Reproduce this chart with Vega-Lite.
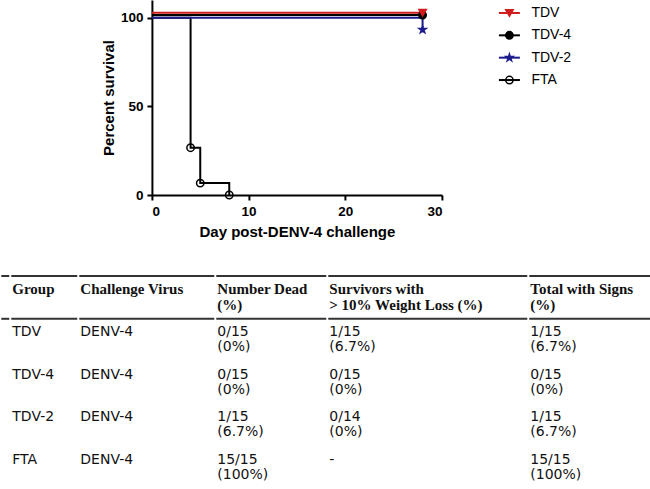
{
  "$schema": "https://vega.github.io/schema/vega-lite/v6.json",
  "padding": 0,
  "background": "white",
  "config": {
    "view": {"stroke": null},
    "axis": {
      "domainColor": "black", "domainWidth": 2, "tickColor": "black", "tickWidth": 2, "tickSize": 5,
      "labelFont": "Liberation Sans", "labelFontWeight": "bold", "labelFontSize": 13.5, "labelColor": "black",
      "titleFont": "Liberation Sans", "titleFontWeight": "bold", "titleFontSize": 15, "titleColor": "black",
      "grid": false
    }
  },
  "datasets": {
    "surv": [
      {"group": "FTA", "day": 0, "pct": 100},
      {"group": "FTA", "day": 4, "pct": 26.7},
      {"group": "FTA", "day": 5, "pct": 6.7},
      {"group": "FTA", "day": 8, "pct": 0},
      {"group": "TDV-2", "day": 0, "pct": 100},
      {"group": "TDV-2", "day": 28, "pct": 93.3},
      {"group": "TDV-4", "day": 0, "pct": 101.5},
      {"group": "TDV-4", "day": 28, "pct": 101.5},
      {"group": "TDV", "day": 0, "pct": 102.8},
      {"group": "TDV", "day": 28, "pct": 102.8}
    ],
    "markers": [
      {"group": "FTA", "day": 4, "pct": 26.7},
      {"group": "FTA", "day": 5, "pct": 6.7},
      {"group": "FTA", "day": 8, "pct": 0},
      {"group": "TDV-2", "day": 28, "pct": 93.3},
      {"group": "TDV-4", "day": 28, "pct": 101.5},
      {"group": "TDV", "day": 28, "pct": 102.8}
    ],
    "legend": [
      {"group": "TDV"}, {"group": "TDV-4"}, {"group": "TDV-2"}, {"group": "FTA"}
    ],
    "cells": [
      {"row": "header", "col": "Group", "t": "Group"},
      {"row": "header", "col": "Virus", "t": "Challenge Virus"},
      {"row": "header", "col": "Dead", "t": "Number Dead\n(%)"},
      {"row": "header", "col": "Loss", "t": "Survivors with\n> 10% Weight Loss (%)"},
      {"row": "header", "col": "Signs", "t": "Total with Signs\n(%)"},
      {"row": "TDV", "col": "Group", "t": "TDV"},
      {"row": "TDV", "col": "Virus", "t": "DENV-4"},
      {"row": "TDV", "col": "Dead", "t": "0/15\n(0%)"},
      {"row": "TDV", "col": "Loss", "t": "1/15\n(6.7%)"},
      {"row": "TDV", "col": "Signs", "t": "1/15\n(6.7%)"},
      {"row": "TDV-4", "col": "Group", "t": "TDV-4"},
      {"row": "TDV-4", "col": "Virus", "t": "DENV-4"},
      {"row": "TDV-4", "col": "Dead", "t": "0/15\n(0%)"},
      {"row": "TDV-4", "col": "Loss", "t": "0/15\n(0%)"},
      {"row": "TDV-4", "col": "Signs", "t": "0/15\n(0%)"},
      {"row": "TDV-2", "col": "Group", "t": "TDV-2"},
      {"row": "TDV-2", "col": "Virus", "t": "DENV-4"},
      {"row": "TDV-2", "col": "Dead", "t": "1/15\n(6.7%)"},
      {"row": "TDV-2", "col": "Loss", "t": "0/14\n(0%)"},
      {"row": "TDV-2", "col": "Signs", "t": "1/15\n(6.7%)"},
      {"row": "FTA", "col": "Group", "t": "FTA"},
      {"row": "FTA", "col": "Virus", "t": "DENV-4"},
      {"row": "FTA", "col": "Dead", "t": "15/15\n(100%)"},
      {"row": "FTA", "col": "Loss", "t": "-"},
      {"row": "FTA", "col": "Signs", "t": "15/15\n(100%)"}
    ],
    "rules": [
      {"row": "header", "kind": "top"},
      {"row": "TDV", "kind": "mid"},
      {"row": "FTA", "kind": "bottom"}
    ]
  },
  "center": true,
  "spacing": 34,
  "vconcat": [
    {
      "spacing": 52,
      "hconcat": [
        {
          "width": 290,
          "height": 195,
          "layer": [
            {
              "data": {"name": "surv"},
              "mark": {"type": "line", "interpolate": "step-after", "strokeWidth": 2},
              "encoding": {
                "x": {"field": "day", "type": "quantitative", "scale": {"domain": [0, 30], "nice": false},
                      "axis": {"values": [0, 10, 20, 30], "title": "Day post-DENV-4 challenge", "labelPadding": 4, "titlePadding": 7}},
                "y": {"field": "pct", "type": "quantitative", "scale": {"domain": [0, 110], "nice": false},
                      "axis": {"values": [0, 50, 100], "title": "Percent survival", "labelPadding": 4, "titlePadding": 4}},
                "color": {"field": "group", "type": "nominal", "legend": null,
                          "scale": {"domain": ["TDV", "TDV-4", "TDV-2", "FTA"], "range": ["#d01c1c", "#000000", "#1c1c8c", "#000000"]}}
              }
            },
            {
              "data": {"name": "markers"},
              "mark": {"type": "point", "filled": false, "size": 55, "strokeWidth": 1.5, "opacity": 1},
              "encoding": {
                "x": {"field": "day", "type": "quantitative"},
                "y": {"field": "pct", "type": "quantitative"},
                "color": {"field": "group", "type": "nominal", "legend": null},
                "shape": {"field": "group", "type": "nominal", "legend": null,
                          "scale": {"domain": ["TDV", "TDV-4", "TDV-2", "FTA"],
                                    "range": ["triangle-down", "circle", "M0,-1L0.224,-0.309L0.951,-0.309L0.363,0.118L0.588,0.809L0,0.382L-0.588,0.809L-0.363,0.118L-0.951,-0.309L-0.224,-0.309Z", "circle"]}},
                "fill": {"field": "group", "type": "nominal", "legend": null,
                         "scale": {"domain": ["TDV", "TDV-4", "TDV-2", "FTA"], "range": ["#d01c1c", "#000000", "#1c1c8c", "transparent"]}}
              }
            }
          ]
        },
        {
          "width": 21,
          "height": 93,
          "data": {"name": "legend"},
          "encoding": {
            "y": {"field": "group", "type": "nominal", "axis": null,
                  "scale": {"type": "point", "domain": ["TDV", "TDV-4", "TDV-2", "FTA"], "padding": 0.58}}
          },
          "layer": [
            {
              "mark": {"type": "point", "shape": "stroke", "size": 441, "strokeWidth": 2, "filled": false, "opacity": 1},
              "encoding": {"color": {"field": "group", "type": "nominal", "legend": null}}
            },
            {
              "mark": {"type": "point", "filled": false, "size": 55, "strokeWidth": 1.5, "opacity": 1},
              "encoding": {
                "color": {"field": "group", "type": "nominal", "legend": null},
                "shape": {"field": "group", "type": "nominal", "legend": null},
                "fill": {"field": "group", "type": "nominal", "legend": null}
              }
            },
            {
              "mark": {"type": "text", "align": "left", "baseline": "middle", "dx": 22, "font": "Liberation Sans", "fontSize": 14, "color": "black"},
              "encoding": {"text": {"field": "group"}}
            }
          ]
        }
      ]
    },
    {
      "spacing": 0,
      "hconcat": [
        {
          "width": 6, "height": 214,
          "layer": [
            {"data": {"name": "rules"}, "transform": [{"filter": "datum.kind !== 'bottom'"}],
             "mark": {"type": "rule", "strokeWidth": 2, "strokeCap": "square", "color": "#333333"},
             "encoding": {"y": {"field": "row", "type": "nominal", "bandPosition": 0, "axis": null,
                                "scale": {"type": "band", "domain": ["header", "TDV", "TDV-4", "TDV-2", "FTA"], "paddingInner": 0, "paddingOuter": 0}}}},
            {"data": {"name": "rules"}, "transform": [{"filter": "datum.kind === 'bottom'"}],
             "mark": {"type": "rule", "strokeWidth": 2, "strokeCap": "square", "color": "#999999"},
             "encoding": {"y": {"field": "row", "type": "nominal", "bandPosition": 1, "axis": null}}}
          ]
        },
        {
          "width": 64, "height": 214,
          "layer": [
            {"data": {"name": "rules"}, "transform": [{"filter": "datum.kind !== 'bottom'"}],
             "mark": {"type": "rule", "strokeWidth": 2, "strokeCap": "square", "color": "#333333"},
             "encoding": {"y": {"field": "row", "type": "nominal", "bandPosition": 0, "axis": null,
                                "scale": {"type": "band", "domain": ["header", "TDV", "TDV-4", "TDV-2", "FTA"], "paddingInner": 0, "paddingOuter": 0}}}},
            {"data": {"name": "rules"}, "transform": [{"filter": "datum.kind === 'bottom'"}],
             "mark": {"type": "rule", "strokeWidth": 2, "strokeCap": "square", "color": "#999999"},
             "encoding": {"y": {"field": "row", "type": "nominal", "bandPosition": 1, "axis": null}}},
            {"data": {"name": "cells"}, "transform": [{"filter": "datum.col === 'Group' && datum.row !== 'header'"}],
             "mark": {"type": "text", "align": "left", "baseline": "top", "dy": 6, "font": "DejaVu Sans", "fontSize": 14, "lineBreak": "\n", "lineHeight": 15, "color": "#111111"},
             "encoding": {"x": {"field": "col", "type": "nominal", "bandPosition": 0, "axis": null, "scale": {"type": "band", "paddingInner": 0, "paddingOuter": 0}},
                          "y": {"field": "row", "type": "nominal", "bandPosition": 0, "axis": null},
                          "text": {"field": "t"}}},
            {"data": {"name": "cells"}, "transform": [{"filter": "datum.col === 'Group' && datum.row === 'header'"}],
             "mark": {"type": "text", "align": "left", "baseline": "top", "dy": 5.5, "font": "Liberation Serif", "fontWeight": "bold", "fontSize": 15, "lineBreak": "\n", "lineHeight": 16, "color": "#111111"},
             "encoding": {"x": {"field": "col", "type": "nominal", "bandPosition": 0, "axis": null},
                          "y": {"field": "row", "type": "nominal", "bandPosition": 0, "axis": null},
                          "text": {"field": "t"}}}
          ]
        },
        {
          "width": 133, "height": 214,
          "layer": [
            {"data": {"name": "rules"}, "transform": [{"filter": "datum.kind !== 'bottom'"}],
             "mark": {"type": "rule", "strokeWidth": 2, "strokeCap": "square", "color": "#333333"},
             "encoding": {"y": {"field": "row", "type": "nominal", "bandPosition": 0, "axis": null,
                                "scale": {"type": "band", "domain": ["header", "TDV", "TDV-4", "TDV-2", "FTA"], "paddingInner": 0, "paddingOuter": 0}}}},
            {"data": {"name": "rules"}, "transform": [{"filter": "datum.kind === 'bottom'"}],
             "mark": {"type": "rule", "strokeWidth": 2, "strokeCap": "square", "color": "#999999"},
             "encoding": {"y": {"field": "row", "type": "nominal", "bandPosition": 1, "axis": null}}},
            {"data": {"name": "cells"}, "transform": [{"filter": "datum.col === 'Virus' && datum.row !== 'header'"}],
             "mark": {"type": "text", "align": "left", "baseline": "top", "dy": 6, "font": "DejaVu Sans", "fontSize": 14, "lineBreak": "\n", "lineHeight": 15, "color": "#111111"},
             "encoding": {"x": {"field": "col", "type": "nominal", "bandPosition": 0, "axis": null, "scale": {"type": "band", "paddingInner": 0, "paddingOuter": 0}},
                          "y": {"field": "row", "type": "nominal", "bandPosition": 0, "axis": null},
                          "text": {"field": "t"}}},
            {"data": {"name": "cells"}, "transform": [{"filter": "datum.col === 'Virus' && datum.row === 'header'"}],
             "mark": {"type": "text", "align": "left", "baseline": "top", "dy": 5.5, "font": "Liberation Serif", "fontWeight": "bold", "fontSize": 15, "lineBreak": "\n", "lineHeight": 16, "color": "#111111"},
             "encoding": {"x": {"field": "col", "type": "nominal", "bandPosition": 0, "axis": null},
                          "y": {"field": "row", "type": "nominal", "bandPosition": 0, "axis": null},
                          "text": {"field": "t"}}}
          ]
        },
        {
          "width": 108, "height": 214,
          "layer": [
            {"data": {"name": "rules"}, "transform": [{"filter": "datum.kind !== 'bottom'"}],
             "mark": {"type": "rule", "strokeWidth": 2, "strokeCap": "square", "color": "#333333"},
             "encoding": {"y": {"field": "row", "type": "nominal", "bandPosition": 0, "axis": null,
                                "scale": {"type": "band", "domain": ["header", "TDV", "TDV-4", "TDV-2", "FTA"], "paddingInner": 0, "paddingOuter": 0}}}},
            {"data": {"name": "rules"}, "transform": [{"filter": "datum.kind === 'bottom'"}],
             "mark": {"type": "rule", "strokeWidth": 2, "strokeCap": "square", "color": "#999999"},
             "encoding": {"y": {"field": "row", "type": "nominal", "bandPosition": 1, "axis": null}}},
            {"data": {"name": "cells"}, "transform": [{"filter": "datum.col === 'Dead' && datum.row !== 'header'"}],
             "mark": {"type": "text", "align": "left", "baseline": "top", "dy": 6, "font": "DejaVu Sans", "fontSize": 14, "lineBreak": "\n", "lineHeight": 15, "color": "#111111"},
             "encoding": {"x": {"field": "col", "type": "nominal", "bandPosition": 0, "axis": null, "scale": {"type": "band", "paddingInner": 0, "paddingOuter": 0}},
                          "y": {"field": "row", "type": "nominal", "bandPosition": 0, "axis": null},
                          "text": {"field": "t"}}},
            {"data": {"name": "cells"}, "transform": [{"filter": "datum.col === 'Dead' && datum.row === 'header'"}],
             "mark": {"type": "text", "align": "left", "baseline": "top", "dy": 5.5, "font": "Liberation Serif", "fontWeight": "bold", "fontSize": 15, "lineBreak": "\n", "lineHeight": 16, "color": "#111111"},
             "encoding": {"x": {"field": "col", "type": "nominal", "bandPosition": 0, "axis": null},
                          "y": {"field": "row", "type": "nominal", "bandPosition": 0, "axis": null},
                          "text": {"field": "t"}}}
          ]
        },
        {
          "width": 197, "height": 214,
          "layer": [
            {"data": {"name": "rules"}, "transform": [{"filter": "datum.kind !== 'bottom'"}],
             "mark": {"type": "rule", "strokeWidth": 2, "strokeCap": "square", "color": "#333333"},
             "encoding": {"y": {"field": "row", "type": "nominal", "bandPosition": 0, "axis": null,
                                "scale": {"type": "band", "domain": ["header", "TDV", "TDV-4", "TDV-2", "FTA"], "paddingInner": 0, "paddingOuter": 0}}}},
            {"data": {"name": "rules"}, "transform": [{"filter": "datum.kind === 'bottom'"}],
             "mark": {"type": "rule", "strokeWidth": 2, "strokeCap": "square", "color": "#999999"},
             "encoding": {"y": {"field": "row", "type": "nominal", "bandPosition": 1, "axis": null}}},
            {"data": {"name": "cells"}, "transform": [{"filter": "datum.col === 'Loss' && datum.row !== 'header'"}],
             "mark": {"type": "text", "align": "left", "baseline": "top", "dy": 6, "font": "DejaVu Sans", "fontSize": 14, "lineBreak": "\n", "lineHeight": 15, "color": "#111111"},
             "encoding": {"x": {"field": "col", "type": "nominal", "bandPosition": 0, "axis": null, "scale": {"type": "band", "paddingInner": 0, "paddingOuter": 0}},
                          "y": {"field": "row", "type": "nominal", "bandPosition": 0, "axis": null},
                          "text": {"field": "t"}}},
            {"data": {"name": "cells"}, "transform": [{"filter": "datum.col === 'Loss' && datum.row === 'header'"}],
             "mark": {"type": "text", "align": "left", "baseline": "top", "dy": 5.5, "font": "Liberation Serif", "fontWeight": "bold", "fontSize": 15, "lineBreak": "\n", "lineHeight": 16, "color": "#111111"},
             "encoding": {"x": {"field": "col", "type": "nominal", "bandPosition": 0, "axis": null},
                          "y": {"field": "row", "type": "nominal", "bandPosition": 0, "axis": null},
                          "text": {"field": "t"}}}
          ]
        },
        {
          "width": 189, "height": 214,
          "layer": [
            {"data": {"name": "rules"}, "transform": [{"filter": "datum.kind !== 'bottom'"}],
             "mark": {"type": "rule", "strokeWidth": 2, "strokeCap": "square", "color": "#333333"},
             "encoding": {"y": {"field": "row", "type": "nominal", "bandPosition": 0, "axis": null,
                                "scale": {"type": "band", "domain": ["header", "TDV", "TDV-4", "TDV-2", "FTA"], "paddingInner": 0, "paddingOuter": 0}}}},
            {"data": {"name": "rules"}, "transform": [{"filter": "datum.kind === 'bottom'"}],
             "mark": {"type": "rule", "strokeWidth": 2, "strokeCap": "square", "color": "#999999"},
             "encoding": {"y": {"field": "row", "type": "nominal", "bandPosition": 1, "axis": null}}},
            {"data": {"name": "cells"}, "transform": [{"filter": "datum.col === 'Signs' && datum.row !== 'header'"}],
             "mark": {"type": "text", "align": "left", "baseline": "top", "dy": 6, "font": "DejaVu Sans", "fontSize": 14, "lineBreak": "\n", "lineHeight": 15, "color": "#111111"},
             "encoding": {"x": {"field": "col", "type": "nominal", "bandPosition": 0, "axis": null, "scale": {"type": "band", "paddingInner": 0, "paddingOuter": 0}},
                          "y": {"field": "row", "type": "nominal", "bandPosition": 0, "axis": null},
                          "text": {"field": "t"}}},
            {"data": {"name": "cells"}, "transform": [{"filter": "datum.col === 'Signs' && datum.row === 'header'"}],
             "mark": {"type": "text", "align": "left", "baseline": "top", "dy": 5.5, "font": "Liberation Serif", "fontWeight": "bold", "fontSize": 15, "lineBreak": "\n", "lineHeight": 16, "color": "#111111"},
             "encoding": {"x": {"field": "col", "type": "nominal", "bandPosition": 0, "axis": null},
                          "y": {"field": "row", "type": "nominal", "bandPosition": 0, "axis": null},
                          "text": {"field": "t"}}}
          ]
        }
      ]
    }
  ]
}
